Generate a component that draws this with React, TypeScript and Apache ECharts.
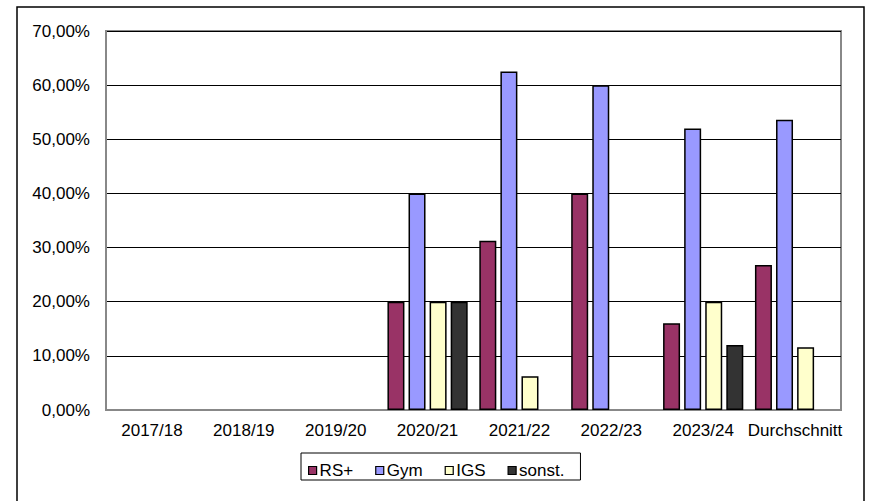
import React, { useEffect, useRef } from "react";
import * as echarts from "echarts";

const categories = ["2017/18", "2018/19", "2019/20", "2020/21", "2021/22", "2022/23", "2023/24", "Durchschnitt"];
const rsPlus = [null, null, null, 20, 31.25, 40, 16, 26.8];
const gym = [null, null, null, 40, 62.5, 60, 52, 53.6];
const igs = [null, null, null, 20, 6.25, null, 20, 11.6];
const sonst = [null, null, null, 20, null, null, 12, null];
const yTicks = { min: 0, max: 70, interval: 10 };

const FONT = "Liberation Sans, Arial, sans-serif";

export default function App() {
  const ref = useRef<HTMLDivElement>(null);
  useEffect(() => {
    if (!ref.current) return;
    const chart = echarts.init(ref.current, undefined, { renderer: "svg" });
    const mk = (name: string, data: (number | null)[], color: string) => ({
      name,
      type: "bar",
      data,
      barWidth: 17,
      barGap: "24%",
      itemStyle: { color, borderColor: "#000", borderWidth: 1.5 },
    });
    chart.setOption({
      animation: false,
      backgroundColor: "#fff",
      textStyle: { fontFamily: FONT },
      graphic: [
        {
          type: "rect",
          shape: { x: 17, y: 7, width: 847, height: 510 },
          style: { fill: "none", stroke: "#000", lineWidth: 1.5 },
          z: -1,
        },
      ],
      grid: {
        left: 106,
        top: 31,
        width: 735,
        height: 379,
        show: true,
        borderColor: "#888",
        borderWidth: 2,
        containLabel: false,
      },
      legend: {
        left: 301,
        top: 453,
        padding: [9, 16, 1, 7],
        borderColor: "#000",
        borderWidth: 1,
        itemWidth: 8,
        itemHeight: 8,
        itemGap: 22,
        icon: "rect",
        itemStyle: { borderColor: "#000", borderWidth: 1.2 },
        textStyle: { fontFamily: FONT, fontSize: 17, color: "#000", padding: [0, 0, 0, -2] },
        data: ["RS+", "Gym", "IGS", "sonst."],
      },
      xAxis: {
        type: "category",
        data: categories,
        axisLine: { lineStyle: { color: "#888", width: 2 } },
        axisTick: { show: false },
        axisLabel: { interval: 0, color: "#000", fontSize: 17, fontFamily: FONT, margin: 12 },
      },
      yAxis: {
        type: "value",
        min: yTicks.min,
        max: yTicks.max,
        interval: yTicks.interval,
        axisLine: { show: true, lineStyle: { color: "#888", width: 2 } },
        axisTick: { show: false },
        splitLine: { lineStyle: { color: "#000", width: 1 } },
        axisLabel: {
          color: "#000",
          fontSize: 17,
          fontFamily: FONT,
          margin: 16,
          formatter: (v: number) => v.toFixed(2).replace(".", ",") + "%",
        },
      },
      series: [
        mk("RS+", rsPlus, "#993366"),
        mk("Gym", gym, "#9999FF"),
        mk("IGS", igs, "#FFFFCC"),
        mk("sonst.", sonst, "#333333"),
      ],
    });
    return () => chart.dispose();
  }, []);
  return <div ref={ref} style={{ position: "absolute", left: 0, top: 0, width: 874, height: 501 }} />;
}
